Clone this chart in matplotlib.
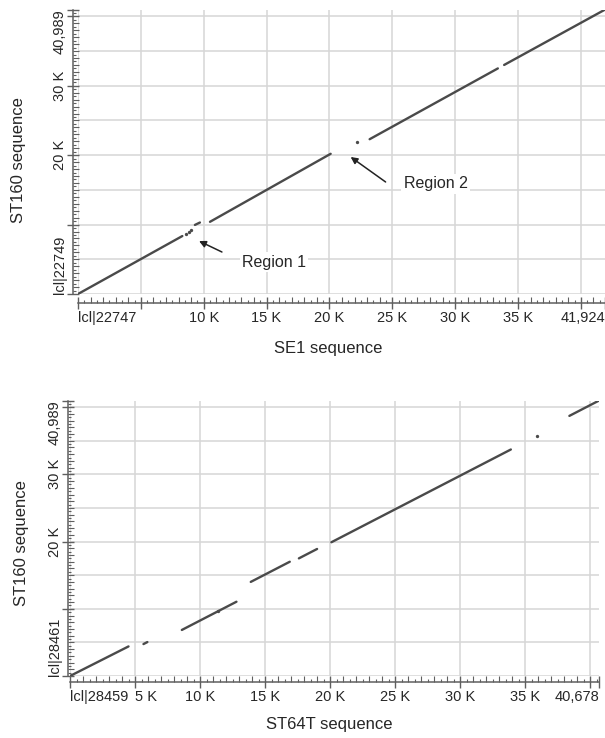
"""Dot-plot alignments of ST160 against SE1 and ST64T."""

import numpy as np
import matplotlib

matplotlib.use("Agg")
import matplotlib.pyplot as plt
from matplotlib.ticker import MultipleLocator

plt.rcParams["font.family"] = ["Liberation Sans", "DejaVu Sans"]

# matched segments, SE1 (x) vs ST160 (y), in bp
se1_x0 = [0, 9300, 10500, 23200, 33900]
se1_x1 = [8300, 9700, 20100, 33400, 41900]
se1_y0 = [0, 9950, 10400, 22300, 33000]
se1_y1 = [8350, 10300, 20200, 32500, 40950]
se1_dot_x = [8600, 8800, 9000, 22200]
se1_dot_y = [8600, 8900, 9200, 21900]

# matched segments, ST64T (x) vs ST160 (y), in bp
st64t_x0 = [0, 5650, 8600, 13900, 17600, 20100, 38400]
st64t_x1 = [4500, 5950, 12800, 16900, 19000, 33900, 40650]
st64t_y0 = [0, 4750, 6850, 14000, 17500, 19900, 38700]
st64t_y1 = [4400, 5050, 11050, 17000, 18900, 33700, 40950]
st64t_dot_x = [11400, 35900]
st64t_dot_y = [9700, 35700]

se1_len = 41924
st64t_len = 40678
st160_len = 40989

top_xlabels = ["lcl|22747", "", "10 K", "15 K", "20 K", "25 K", "30 K", "35 K", "", "41,924"]
bot_xlabels = ["lcl|28459", "5 K", "10 K", "15 K", "20 K", "25 K", "30 K", "35 K", "", "40,678"]
top_ylabels = ["lcl|22749", "", "20 K", "30 K", "", "40,989"]
bot_ylabels = ["lcl|28461", "", "20 K", "30 K", "", "40,989"]

LINE = "#4a4a4a"
GRID = "#d6d6d6"
SPINE = "#5f5f5f"
TXT = "#262626"


def draw_panel(ax, x0, x1, y0, y1, dot_x, dot_y, xmax, ymax,
               xlabels, ylabels, xlabel, ylabel, xoff, yoff,
               xlab_pos, ylab_pos):
    for g in np.arange(0, xmax, 5000):
        ax.axvline(g, color=GRID, lw=1.1, zorder=0)
    for g in np.arange(0, ymax, 5000):
        ax.axhline(g, color=GRID, lw=1.1, zorder=0)

    for a, b, c, d in zip(x0, x1, y0, y1):
        ax.plot([a, b], [c, d], color=LINE, lw=1.7, solid_capstyle="round", zorder=3)
    ax.plot(dot_x, dot_y, "o", ms=2.4, color=LINE, mec="none", zorder=3)

    ax.set_xlim(0, xmax)
    ax.set_ylim(0, ymax)
    for s in ("top", "right"):
        ax.spines[s].set_visible(False)
    ax.spines["bottom"].set_position(("outward", xoff * 0.72))
    ax.spines["left"].set_position(("outward", yoff * 0.72))
    for s in ("bottom", "left"):
        ax.spines[s].set_color(SPINE)
        ax.spines[s].set_linewidth(1.1)

    xt = list(np.arange(0, 40001, 5000)) + [xmax]
    ax.set_xticks(xt, xlabels)
    yt = list(np.arange(0, 40001, 10000)) + [ymax]
    ax.set_yticks(yt, ylabels, rotation=90, va="center")
    ax.xaxis.set_minor_locator(MultipleLocator(1000))
    ax.yaxis.set_minor_locator(MultipleLocator(1000))
    ax.tick_params(which="major", direction="inout", length=9, width=1.0,
                   color=SPINE, labelsize=10.5, labelcolor=TXT)
    ax.tick_params(axis="x", which="major", pad=1.5)
    ax.tick_params(axis="y", which="major", pad=0)
    ax.tick_params(which="minor", direction="in", length=4.5, width=0.8, color=SPINE)

    lbls = ax.get_xticklabels()
    lbls[0].set_ha("left")
    lbls[-1].set_ha("right")
    if xlabels[1]:
        lbls[1].set_ha("left")
    lbls = ax.get_yticklabels()
    lbls[0].set_va("bottom")
    lbls[-1].set_va("top")

    # half-kb ticks
    h = ax.get_window_extent().height
    w = ax.get_window_extent().width
    sx = ax.secondary_xaxis(-xoff / h)
    sx.set_xticks(np.arange(500, xmax, 1000))
    sx.tick_params(direction="in", length=2.5, width=0.8, color=SPINE, labelbottom=False)
    sx.spines["bottom"].set_visible(False)
    sy = ax.secondary_yaxis(-yoff / w)
    sy.set_yticks(np.arange(500, ymax, 1000))
    sy.tick_params(direction="in", length=2.5, width=0.8, color=SPINE, labelleft=False)
    sy.spines["left"].set_visible(False)

    ax.set_xlabel(xlabel, fontsize=12, color=TXT)
    ax.set_ylabel(ylabel, fontsize=12, color=TXT)
    ax.xaxis.set_label_coords(*xlab_pos)
    ax.yaxis.set_label_coords(*ylab_pos)


fig = plt.figure(figsize=(6.05, 7.38), dpi=100)
ax1 = fig.add_axes([78 / 605, 1 - 294 / 738, 527 / 605, 284.5 / 738])
ax2 = fig.add_axes([70 / 605, 1 - 676 / 738, 529 / 605, 275.5 / 738])

draw_panel(ax1, se1_x0, se1_x1, se1_y0, se1_y1, se1_dot_x, se1_dot_y,
           se1_len, st160_len, top_xlabels, top_ylabels,
           "SE1 sequence", "ST160 sequence", 9, 5,
           (0.474, -0.165), (-0.098, 0.471))
draw_panel(ax2, st64t_x0, st64t_x1, st64t_y0, st64t_y1, st64t_dot_x, st64t_dot_y,
           st64t_len, st160_len, bot_xlabels, bot_ylabels,
           "ST64T sequence", "ST160 sequence", 6, 2,
           (0.49, -0.15), (-0.078, 0.483))

arrow = dict(arrowstyle="-|>", color="#222222", lw=1.1, mutation_scale=10,
             shrinkA=0, shrinkB=0)
box = dict(fc="white", ec="none", pad=1.5)
ax1.annotate("", xy=(9630, 7630), xytext=(11450, 6050), arrowprops=arrow, zorder=4)
ax1.text(13050, 4600, "Region 1", ha="left", va="center", fontsize=11.5,
         color=TXT, bbox=box, zorder=2)
ax1.annotate("", xy=(21690, 19740), xytext=(24470, 16140), arrowprops=arrow, zorder=4)
ax1.text(25900, 15850, "Region 2", ha="left", va="center", fontsize=11.5,
         color=TXT, bbox=box, zorder=2)

fig.savefig("out.png", dpi=100)
